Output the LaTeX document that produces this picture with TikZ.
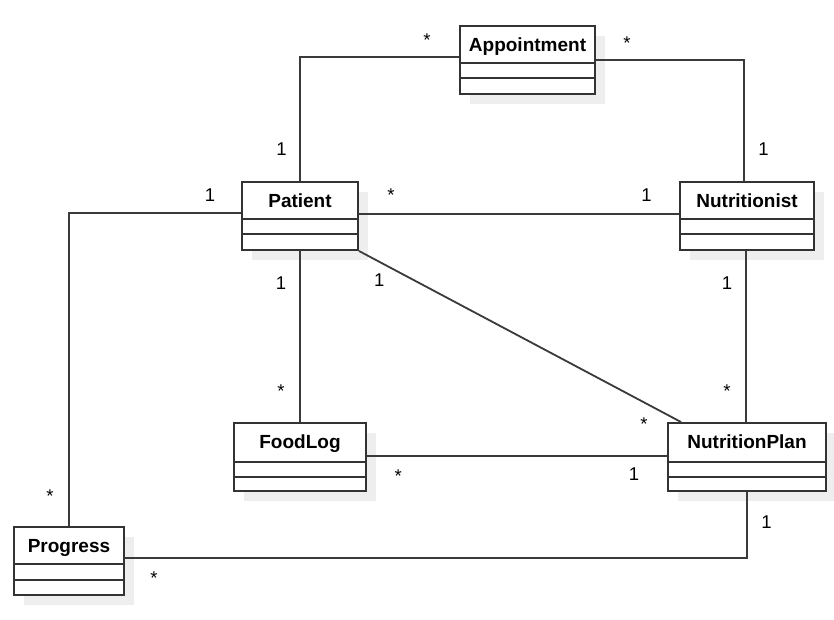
\documentclass[tikz,border=0pt]{standalone}
\usepackage{fontspec}
\setmainfont{Liberation Sans}
\definecolor{ln}{HTML}{333333}
\definecolor{cn}{HTML}{3A3A3A}
\definecolor{shade}{HTML}{EEEEEE}
\tikzset{
  cls/.style={draw=ln, line width=2pt, fill=white, inner sep=0pt},
  shd/.style={fill=shade, draw=none},
  sepline/.style={draw=ln, line width=2pt},
  assoc/.style={draw=cn, line width=1.8pt},
  cname/.style={font=\fontsize{19}{22}\selectfont\bfseries, inner sep=0pt, anchor=base},
  mult/.style={font=\fontsize{18.5}{22}\selectfont, inner sep=0pt, anchor=base},
}
% name, x1, y1, x2, y2, sep1, sep2, text
\newcommand\umlcls[8]{%
  \fill[shd] (#2+10,#3+10) rectangle (#4+10,#5+10);
  \node[cls, minimum width={(#4-#2)*1pt}, minimum height={(#5-#3)*1pt}] (#1) at ({(#2+#4)/2},{(#3+#5)/2}) {};
  \draw[sepline] (#2,#6) -- (#4,#6);
  \draw[sepline] (#2,#7) -- (#4,#7);
  \node[cname] (#1-t) at ({(#2+#4)/2},{#3+25}) {#8};
}
\begin{document}
\begin{tikzpicture}[x=1pt,y=-1pt]
\fill[white] (0,0) rectangle (834,619);
\useasboundingbox (0,0) rectangle (834,619);

\umlcls{app}{460}{26}{595}{94}{63}{78}{Appointment}
\umlcls{pat}{242}{182}{358}{250}{219}{234}{Patient}
\umlcls{nut}{680}{182}{814}{250}{219}{234}{Nutritionist}
\umlcls{fl}{234}{423}{366}{491}{462}{477}{FoodLog}
\umlcls{np}{668}{423}{826}{491}{462}{477}{NutritionPlan}
\umlcls{prog}{14}{527}{124}{595}{564}{580}{Progress}

% associations
\draw[assoc] ([yshift=3pt]app.west) -| (pat.north);
\draw[assoc] (app.east) -| ([xshift=-3pt]nut.north);
\draw[assoc] ([yshift=2pt]pat.east) -- ([yshift=2pt]nut.west);
\draw[assoc] ([yshift=3pt]pat.west) -| (prog.north);
\draw[assoc] (pat.south) -- (pat.south |- fl.north);
\draw[assoc] (pat.south east) -- ([xshift=14pt]np.north west);
\draw[assoc] ([xshift=-1pt]nut.south) -- ([xshift=-1pt]nut.south |- np.north);
\draw[assoc] ([yshift=1pt]fl.east) -- ([yshift=1pt]np.west);
\draw[assoc] ([yshift=3pt]prog.east) -| (np.south);

% multiplicities
\node[mult] (m1) at (427,46.6) {*};
\node[mult] (m2) at (281.5,155) {1};
\node[mult] (m3) at (627,49.6) {*};
\node[mult] (m4) at (763.5,155) {1};
\node[mult] (m5) at (391,201.6) {*};
\node[mult] (m6) at (646.5,201.7) {1};
\node[mult] (m7) at (210,201.7) {1};
\node[mult] (m8) at (50,502.6) {*};
\node[mult] (m9) at (281,289) {1};
\node[mult] (m10) at (281,397.6) {*};
\node[mult] (m11) at (379.3,286) {1};
\node[mult] (m12) at (644,430.6) {*};
\node[mult] (m13) at (727,289) {1};
\node[mult] (m14) at (727,397.6) {*};
\node[mult] (m15) at (398.3,482) {*};
\node[mult] (m16) at (634,480.7) {1};
\node[mult] (m17) at (154,584) {*};
\node[mult] (m18) at (766.5,528.3) {1};
\end{tikzpicture}
\end{document}
